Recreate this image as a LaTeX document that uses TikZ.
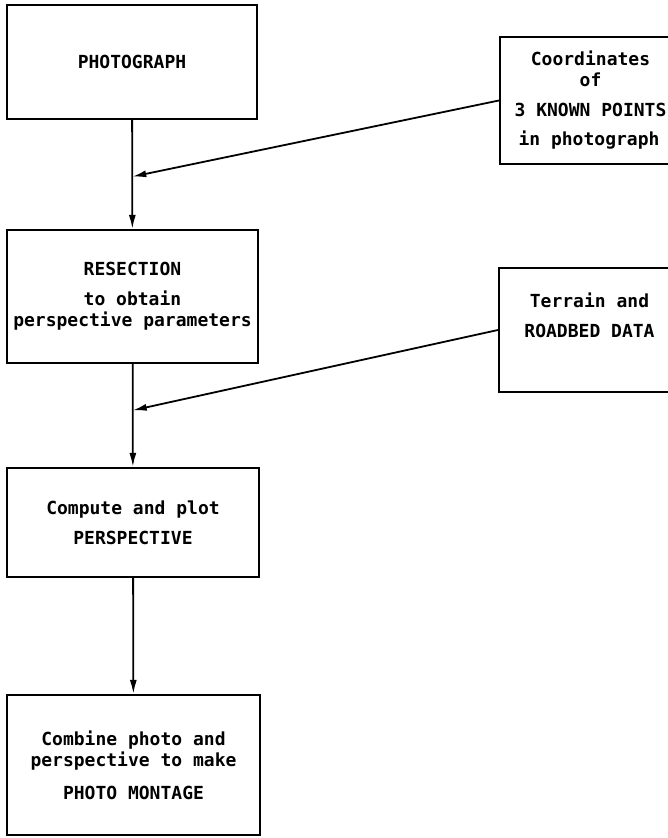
\documentclass[tikz,border=0pt]{standalone}
\usepackage{fontspec}
\setmonofont{DejaVu Sans Mono}
\usetikzlibrary{shapes,arrows.meta,calc,positioning}

\tikzset{
  box/.style={draw,line width=2.2pt,minimum width=#1,align=center,inner sep=0pt,
    font=\ttfamily\bfseries\fontsize{18}{21}\selectfont},
  flow/.style={line width=1.8pt,-{Latex[length=14pt,width=7pt]}}
}

\begin{document}
\begin{tikzpicture}[x=1pt,y=-1pt]
\useasboundingbox (0,0) rectangle (667,838);

% Hauptkette links
\node[box=250pt,minimum height=114pt] (photo) at (132,62) {PHOTOGRAPH};
\node[box=251pt,minimum height=133pt] (resect) at (132.5,296.5)
  {RESECTION\\[9pt]to obtain\\perspective parameters};
\node[box=252pt,minimum height=109pt] (compute) at (133,522.5)
  {Compute and plot\\[9pt]PERSPECTIVE};
\node[box=253pt,minimum height=140pt] (montage) at (133.5,765)
  {Combine photo and\\perspective to make\\[12pt]PHOTO MONTAGE};

% Eingaben rechts
\node[box=181pt,minimum height=127pt] (known) at (590.5,100.5)
  {Coordinates\\of\\[9pt]3 KNOWN POINTS\\[8pt]in photograph\,};
\node[box=181pt,minimum height=124pt] (terrain) at (589.5,330)
  {Terrain and\\[9pt]ROADBED DATA\\[9pt]\mbox{}};

% Verzweigungspunkte
\coordinate (j1) at ($(photo.south)!0.52!(resect.north)$);
\coordinate (j2) at ($(resect.south)!0.45!(compute.north)$);

% Pfeile
\draw[flow] (photo) -- (resect);
\draw[flow] (resect) -- (compute);
\draw[flow] (compute) -- (montage);
\draw[flow] (known.west) -- (j1);
\draw[flow] (terrain.west) -- (j2);

\end{tikzpicture}
\end{document}
